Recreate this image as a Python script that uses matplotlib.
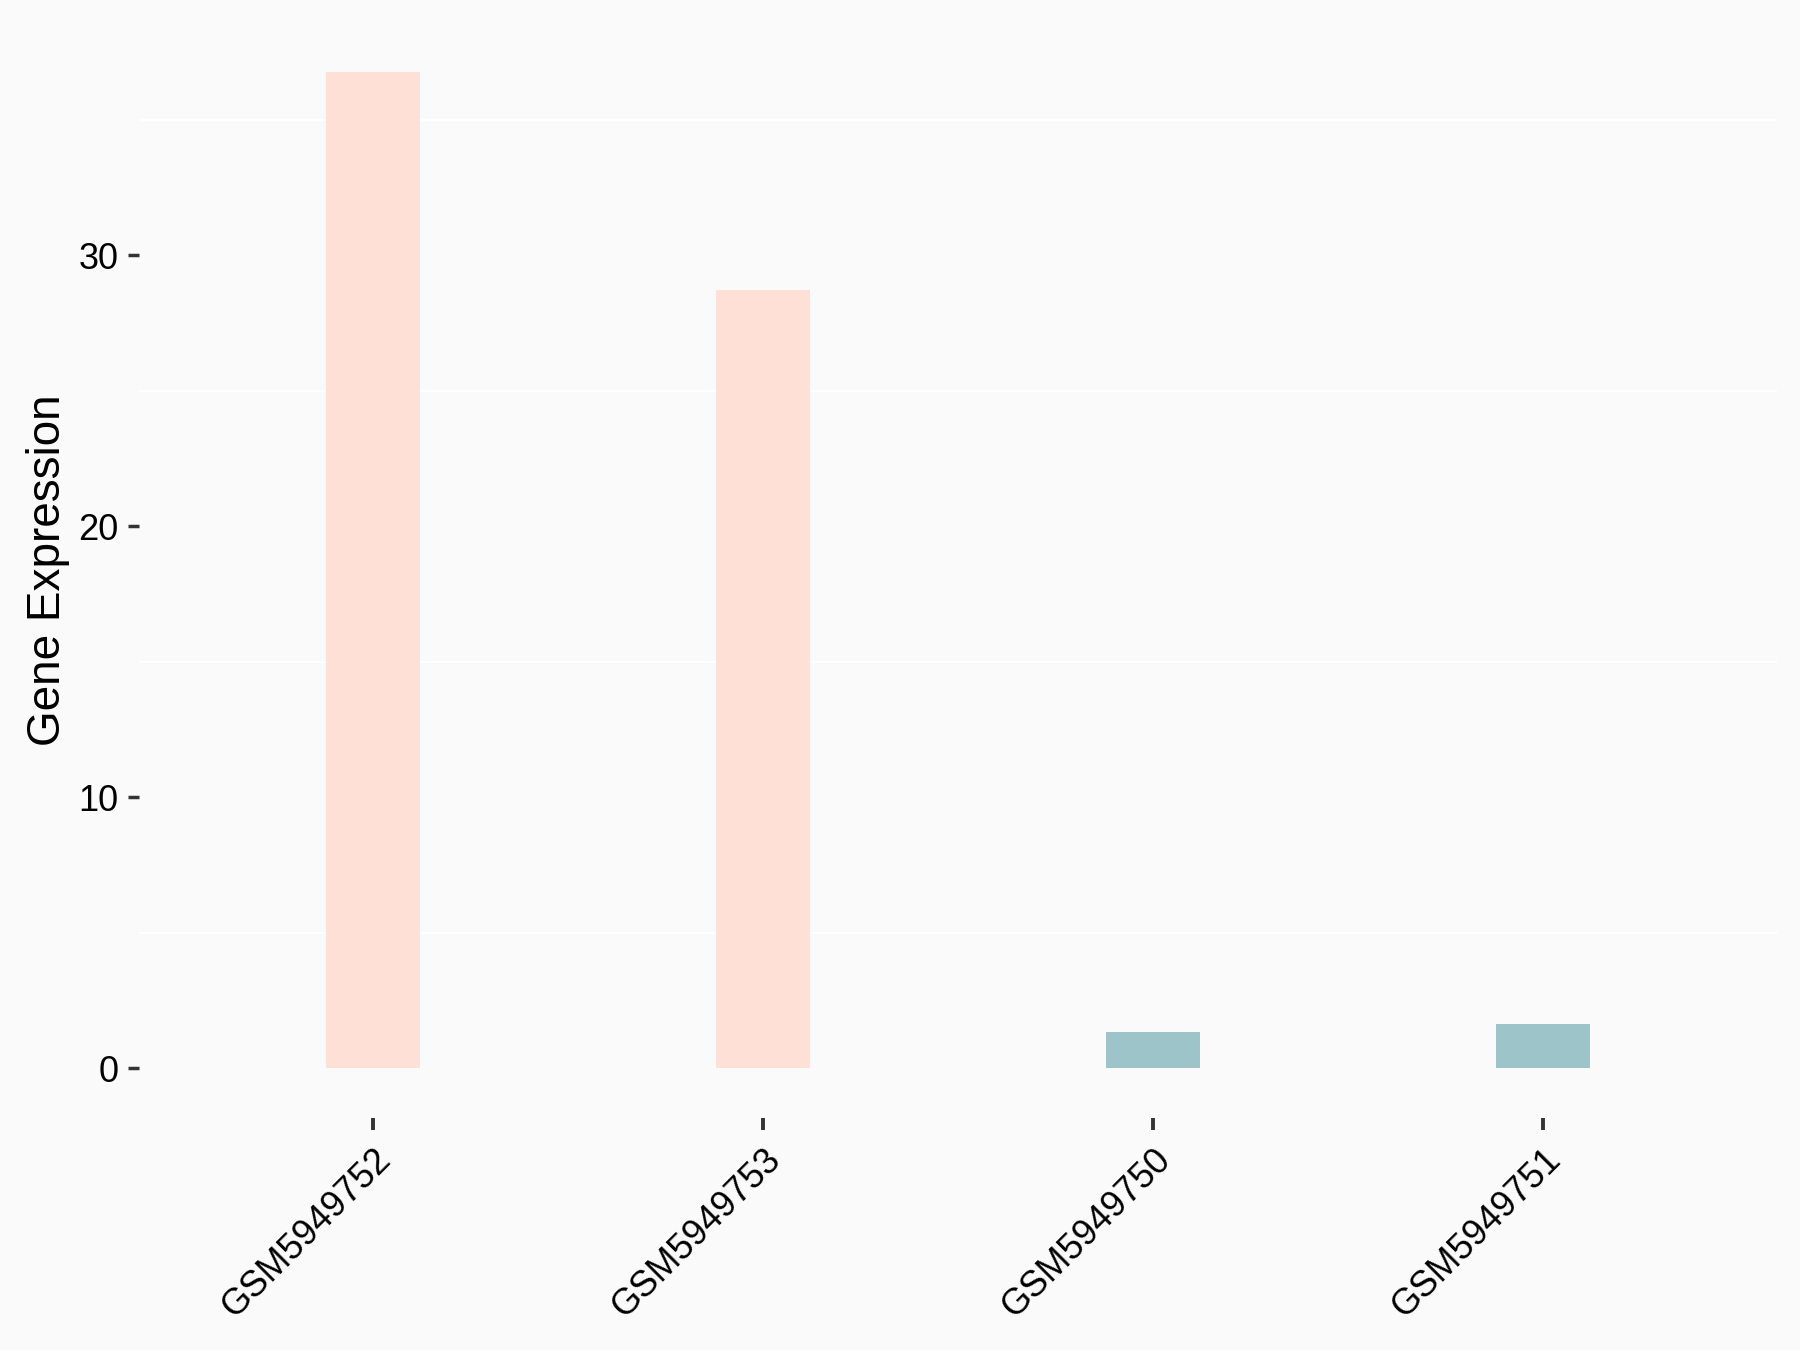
import matplotlib
matplotlib.use("Agg")
import matplotlib.pyplot as plt
import numpy as np

samples = ["GSM5949752", "GSM5949753", "GSM5949750", "GSM5949751"]
expression = [36.77, 28.73, 1.32, 1.62]
groups = ["high", "high", "low", "low"]
group_colors = {"high": "#FEE0D6", "low": "#9DC4C8"}
y_ticks = [0, 10, 20, 30]
minor_grid = [5, 15, 25, 35]

plt.rcParams['font.family'] = ['Liberation Sans', 'DejaVu Sans']

W, H = 1800, 1350
fig = plt.figure(figsize=(18, 13.5), dpi=100, facecolor="#FAFAFA")
left, right, top, bottom = 139, 1777, 22, 1118
ax = fig.add_axes([left / W, 1 - bottom / H, (right - left) / W, (bottom - top) / H])
ax.set_facecolor("#FAFAFA")

x = np.arange(len(samples))
colors = [group_colors[g] for g in groups]
ax.bar(x, expression, width=0.24, color=colors, linewidth=0, zorder=2)

ymax = max(expression)
ax.set_ylim(-0.05 * ymax, ymax * 1.05)
ax.set_xlim(-0.6, len(samples) - 0.4)

for g in minor_grid:
    ax.axhline(g, color="white", linewidth=1.6, zorder=1)

ax.set_yticks(y_ticks)
ax.set_yticklabels([str(t) for t in y_ticks])
ax.set_xticks(x)
ax.set_xticklabels(samples, rotation=45, ha="right", va="top", rotation_mode="anchor")

for s in ax.spines.values():
    s.set_visible(False)

ax.tick_params(axis="y", length=8, width=2.5, color="#333333", pad=7,
               labelsize=26, labelcolor="black")
ax.tick_params(axis="x", length=8.5, width=2.8, color="#333333", pad=9,
               labelsize=26, labelcolor="black")

ax.set_ylabel("Gene Expression", fontsize=33, color="black", labelpad=6)

fig.savefig("out.png", dpi=100, facecolor="#FAFAFA")
